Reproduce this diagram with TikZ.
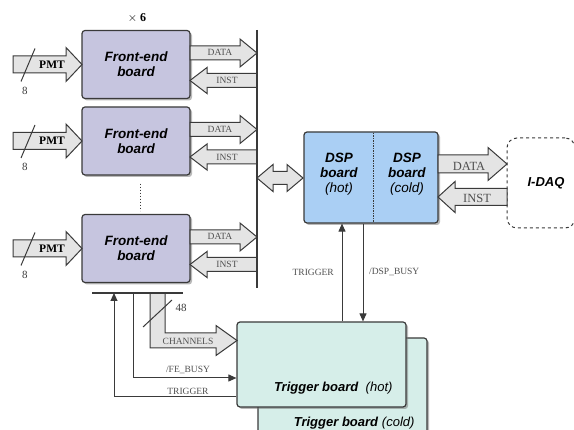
\documentclass[tikz,border=0pt]{standalone}
\usepackage{fontspec}
\setmainfont{Liberation Serif}
\setsansfont{Liberation Sans}
\usetikzlibrary{shadows,arrows.meta,calc}
\definecolor{fecol}{HTML}{C6C5DF}
\definecolor{dspcol}{HTML}{AACFF4}
\definecolor{trcol}{HTML}{D6EEE9}
\definecolor{arrfill}{HTML}{E4E4E4}
\definecolor{lnc}{HTML}{3A3A3A}
\definecolor{lbl}{HTML}{505050}
\newcommand{\fatarrow}[6]{%
  \draw[fatstyle] (#1,{#3-#4}) -- ({#2-#6},{#3-#4}) -- ({#2-#6},{#3-#5}) -- (#2,#3)
    -- ({#2-#6},{#3+#5}) -- ({#2-#6},{#3+#4}) -- (#1,{#3+#4}) -- cycle;}
\tikzset{
  fatstyle/.style={draw=lnc, fill=arrfill, line width=1pt, line join=miter},
  board/.style={draw=lnc, line width=1.2pt, rounded corners=3pt,
    drop shadow={shadow xshift=2pt, shadow yshift=-2pt, fill=black!55}},
  boardtxt/.style={font=\sffamily\bfseries\itshape\fontsize{13.5}{15}\selectfont, align=center},
  lab/.style={font=\fontsize{9.5}{10}\selectfont, text=lbl, inner sep=0pt},
  biglab/.style={font=\fontsize{12.5}{13}\selectfont, text=lbl, inner sep=0pt},
  thin/.style={draw=lnc, line width=1pt},
  tip/.style={-{Triangle[length=8pt,width=7pt]}}
}
\begin{document}
\begin{tikzpicture}[x=1pt,y=-1pt]
\useasboundingbox (0,0) rectangle (574,430);

% x 6
\node[font=\bfseries\fontsize{12}{12}\selectfont] (x6) at (137,18) {$\times$ 6};

% front-end boards
\foreach \n/\yc in {1/64.5, 2/141, 3/248.5}{
  \node[board, fill=fecol, minimum width=108pt, minimum height=68pt, inner sep=0pt] (fe\n) at (136,\yc) {};
  \node[boardtxt] (fet\n) at (136,\yc) {Front-end\\board};
  % PMT arrow
  \fatarrow{13}{82}{\yc}{8.5}{17}{16}
  \node[font=\bfseries\fontsize{11.5}{12}\selectfont, inner sep=0pt] (pmt\n) at (52,\yc) {PMT};
  \draw[thin] (21,\yc+17) -- (35,\yc-16);
  \node[lab, text=lnc, font=\fontsize{11}{11}\selectfont] (eight\n) at (25,\yc+26) {8};
  % DATA / INST
  \fatarrow{190}{257}{\yc-11.5}{7}{14}{17}
  \node[lab] (data\n) at (220,\yc-12) {DATA};
  \fatarrow{257}{190}{\yc+16}{7}{13}{-17}
  \node[lab] (inst\n) at (227,\yc+16) {INST};
}
% dots between fe2 and fe3
\draw[lnc, line width=1pt, dotted] (fe2.south) ++(4,8) -- ++(0,27);

% bus
\coordinate (busTop) at (257,30);
\coordinate (busBot) at (257,288);
\draw[thin, line width=1.1pt] (busTop) -- (busBot);

% DSP board
\node[board, fill=dspcol, minimum width=134pt, minimum height=91pt, inner sep=0pt] (dsp) at (371,177.5) {};
\draw[lnc, line width=0.8pt, dash pattern=on 1.5pt off 1pt] (373,133) -- (373,222);
\node[boardtxt, font=\sffamily\fontsize{13.5}{15}\selectfont] (dsph) at (339,174) {\textbf{\textit{DSP}}\\\textbf{\textit{board}}\\\textit{(hot)}};
\node[boardtxt, font=\sffamily\fontsize{13.5}{15}\selectfont] (dspc) at (407,174) {\textbf{\textit{DSP}}\\\textbf{\textit{board}}\\\textit{(cold)}};

% double arrow bus <-> DSP
\draw[fatstyle] (257,178) -- (273,164.5) -- (273,171.5) -- (287,171.5) -- (287,164.5) -- (303,178)
  -- (287,191.5) -- (287,184.5) -- (273,184.5) -- (273,191.5) -- cycle;

% I-DAQ
\node[draw=lnc, line width=1pt, dashed, rounded corners=10pt, minimum width=68pt, minimum height=90pt] (idaq) at (541,183) {};
\node[font=\sffamily\bfseries\itshape\fontsize{13}{13}\selectfont] (idaqt) at (546,183) {I-DAQ};

% DSP <-> IDAQ
\fatarrow{438}{507}{164}{9}{16.5}{19}
\node[biglab] (ddata) at (469,166) {DATA};
\fatarrow{507}{438}{197}{8.5}{15.5}{-17}
\node[biglab] (dinst) at (477,198) {INST};

% trigger boards
\node[board, fill=trcol, minimum width=169pt, minimum height=110pt, inner sep=0pt] (trigc) at (342.5,393) {};
\node[board, fill=trcol, minimum width=169pt, minimum height=85pt, inner sep=0pt] (trig) at (321.5,364.5) {};
\node[font=\sffamily\fontsize{13}{13}\selectfont, anchor=east] (trigt) at (396,388) {\textbf{\textit{Trigger board}}\ \ \textit{(hot)}};
\node[font=\sffamily\fontsize{13}{13}\selectfont, anchor=east] (trigct) at (418,423) {\textbf{\textit{Trigger board}} \textit{(cold)}};

% trigger <-> DSP
\coordinate (c1) at (342,0);
\coordinate (c2) at (363,0);
\draw[thin, tip] (c1 |- trig.north) -- (c1 |- dsp.south);
\draw[thin, tip] (c2 |- dsp.south) -- (c2 |- trig.north);
\node[lab, anchor=east] (trl) at (334,272) {TRIGGER};
\node[lab, anchor=west] (dbl) at (369,272) {/DSP\_BUSY};

% bottom bus under fe3
\coordinate (bb1) at (92,293);
\coordinate (bb2) at (183,293);

% CHANNELS bent fat arrow
\draw[fatstyle] (150,293) -- (150,348) -- (216,348) -- (216,355.5) -- (237,340.5) -- (216,325.5) -- (216,333) -- (165,333) -- (165,293);
\draw[thin] (143,327) -- (172,300);
\node[lab, text=lnc, font=\fontsize{11}{11}\selectfont] (n48) at (181,308) {48};
\node[lab] (chl) at (188,341) {CHANNELS};

\draw[thin, line width=1.2pt] (bb1) -- (bb2);

% /FE_BUSY
\coordinate (fb) at (133,293);
\draw[thin, tip] (fb) -- (133,378) -- (133,378 -| trig.west);
\node[lab] (fbl) at (188,370) {/FE\_BUSY};
% TRIGGER to FE
\coordinate (tb) at (114,293);
\draw[thin, tip] (trig.west |- 0,397) -- (114,397) -- (tb);
\node[lab] (tgl) at (188,391) {TRIGGER};
\end{tikzpicture}
\end{document}
